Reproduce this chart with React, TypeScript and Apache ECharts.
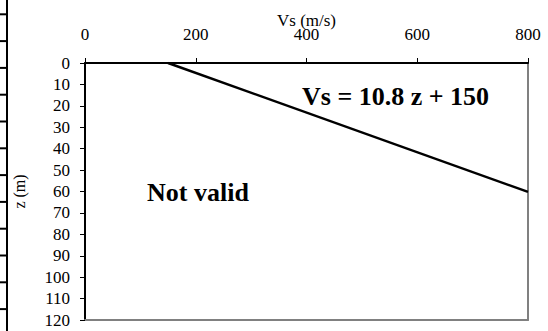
import React, { useEffect, useRef } from "react";
import * as echarts from "echarts";

const xTicks = [0, 200, 400, 600, 800];
const zMax = 120;
// Line Vs = 10.8 z + 150, from z = 0 to where Vs reaches 800
const lineVs = [150, 800];
const lineZ = [0, 60.19];
const equationLabel = "Vs = 10.8 z + 150";
const regionLabel = "Not valid";

const FONT = "Liberation Serif";

export default function App() {
  const ref = useRef<HTMLDivElement>(null);
  useEffect(() => {
    if (!ref.current) return;
    const chart = echarts.init(ref.current, undefined, { renderer: "svg" });
    const edgeTicks: any[] = [];
    for (let i = 0; i < 12; i++) {
      const y = 14.3 + i * 26.8;
      edgeTicks.push({
        type: "line",
        shape: { x1: 0, y1: y, x2: 7, y2: y },
        style: { stroke: "#000", lineWidth: 2 },
        silent: true,
      });
    }
    const labelStyle = { fontFamily: FONT, fontSize: 17, color: "#000", fontWeight: "normal" as const };
    chart.setOption({
      animation: false,
      backgroundColor: "#fff",
      textStyle: { fontFamily: FONT, fontSize: 17, color: "#000" },
      grid: { left: 85, top: 63, right: 20, bottom: 11, containLabel: false, outerBoundsMode: "none" },
      xAxis: [
        {
          type: "value",
          position: "top",
          min: xTicks[0],
          max: xTicks[xTicks.length - 1],
          interval: 200,
          name: "Vs (m/s)",
          nameLocation: "middle",
          nameGap: 34,
          nameMoveOverlap: false,
          nameTextStyle: { ...labelStyle },
          axisLine: { show: true, onZero: false, lineStyle: { color: "#000", width: 2 } },
          axisTick: { show: true, inside: false, length: 5, lineStyle: { color: "#000", width: 1 } },
          axisLabel: { ...labelStyle, margin: 20 },
          splitLine: { show: false },
        },
        {
          type: "value",
          position: "bottom",
          min: 0,
          max: 800,
          axisLine: { show: true, onZero: false, lineStyle: { color: "#808080", width: 2 } },
          axisTick: { show: false },
          axisLabel: { show: false },
          splitLine: { show: false },
        },
      ],
      yAxis: [
        {
          type: "value",
          inverse: true,
          min: 0,
          max: zMax,
          interval: 10,
          name: "z (m)",
          nameLocation: "middle",
          nameRotate: 90,
          nameGap: 58,
          nameMoveOverlap: false,
          nameTextStyle: { ...labelStyle, fontSize: 16 },
          axisLine: { show: true, onZero: false, lineStyle: { color: "#000", width: 2 } },
          axisTick: { show: true, inside: false, length: 5, lineStyle: { color: "#000", width: 1 } },
          axisLabel: { ...labelStyle, margin: 15 },
          splitLine: { show: false },
        },
        {
          type: "value",
          position: "right",
          inverse: true,
          min: 0,
          max: zMax,
          axisLine: { show: true, onZero: false, lineStyle: { color: "#808080", width: 2 } },
          axisTick: { show: false },
          axisLabel: { show: false },
          splitLine: { show: false },
        },
      ],
      series: [
        {
          type: "line",
          xAxisIndex: 0,
          yAxisIndex: 0,
          data: lineVs.map((v, i) => [v, lineZ[i]]),
          symbol: "none",
          lineStyle: { color: "#000", width: 2.5 },
          z: 5,
        },
      ],
      graphic: [
        {
          type: "line",
          shape: { x1: 7, y1: 0, x2: 7, y2: 331 },
          style: { stroke: "#000", lineWidth: 2 },
          silent: true,
        },
        ...edgeTicks,
        {
          type: "text",
          x: 302,
          y: 96,
          style: {
            text: equationLabel,
            font: `bold 26px "${FONT}"`,
            fill: "#000",
            textAlign: "left",
            textVerticalAlign: "middle",
          },
        },
        {
          type: "text",
          x: 147,
          y: 192,
          style: {
            text: regionLabel,
            font: `bold 26px "${FONT}"`,
            fill: "#000",
            textAlign: "left",
            textVerticalAlign: "middle",
          },
        },
      ],
    });
    return () => chart.dispose();
  }, []);
  return <div ref={ref} style={{ width: 548, height: 331, position: "absolute", left: 0, top: 0 }} />;
}
